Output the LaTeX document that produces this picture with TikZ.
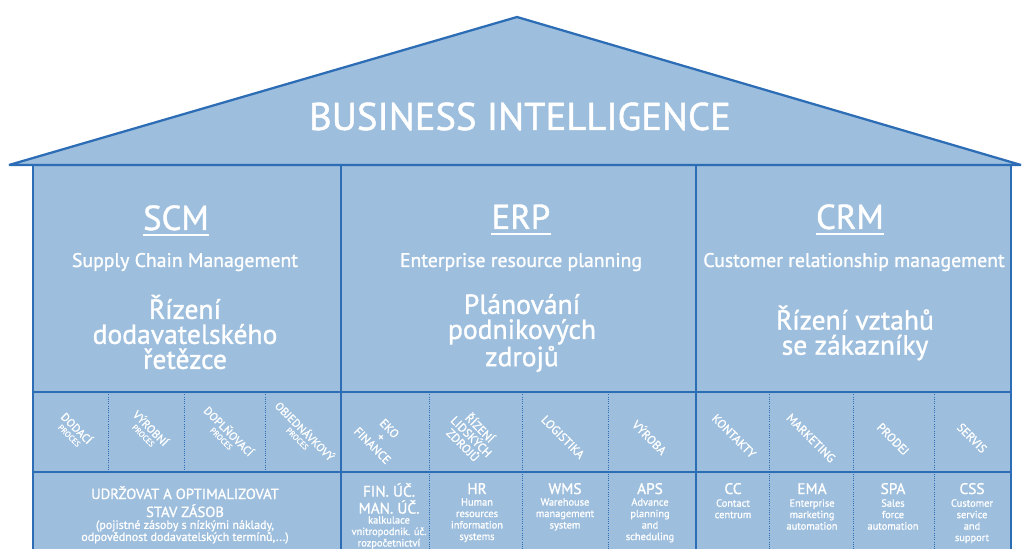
\documentclass[tikz,border=0pt]{standalone}
\usepackage{fontspec}
\setmainfont{PT Sans}[BoldFont=PT Sans,BoldFeatures={FakeBold=1.2}]
\usetikzlibrary{calc}
\definecolor{hfill}{HTML}{9DBEDD}
\definecolor{hline}{HTML}{2C6DB5}
\newcommand\myfs[2]{\fontsize{#1}{#2}\selectfont\bfseries}
\begin{document}
\begin{tikzpicture}[x=0.75pt,y=-0.75pt,
  wall/.style={draw=hline,line width=1.7pt},
  sepline/.style={draw=hline,line width=0.7pt,densely dotted},
  w/.style={text=white,inner sep=0pt},
  bi/.style={w,font=\myfs{29}{32}},
  abbr/.style={w,font=\myfs{26}{28}},
  uline/.style={draw=white,line width=1.2pt},
  sub/.style={w,font=\myfs{14.8}{16}},
  czech/.style={w,align=center,font=\myfs{20.7}{18.75}},
  rotlab/.style={w,align=center,rotate=-45,font=\myfs{9}{9}},
  proc/.style={w,align=center,rotate=-45,font=\myfs{6}{6.8}},
  btitle/.style={w,align=center,font=\myfs{11.5}{12.75}},
  bdesc/.style={w,align=center,font=\myfs{7.8}{8.6}},
  stitle/.style={w,align=center,font=\myfs{11}{13.5}},
  sdesc/.style={w,align=center,font=\myfs{9}{9}}]
\useasboundingbox (0,0) rectangle (1022,549);
% body
\fill[hfill] (33,165) rectangle (1011,549);
\filldraw[fill=hfill,draw=hline,line width=1.7pt,line join=bevel] (9,165) -- (517,17) -- (1021,165) -- cycle;
\draw[wall] (33,165) -- (33,549);
\draw[wall] (341,165) -- (341,549);
\draw[wall] (696,165) -- (696,549);
\draw[wall] (1011,165) -- (1011,549);
\draw[wall] (33,392) -- (1011,392);
\draw[wall] (33,472) -- (1011,472);
\foreach \x in {108,184,265} \draw[sepline] (\x,392) -- (\x,472);
\foreach \x in {429,522,608,769,853,934} \draw[sepline] (\x,392) -- (\x,549);
% roof
\node[bi,anchor=base] (bi) at (520,130) {BUSINESS INTELLIGENCE};
% headers
\node[abbr,anchor=base] (scm) at (176,230) {SCM};
\node[abbr,anchor=base] (erp) at (521,229) {ERP};
\node[abbr,anchor=base] (crm) at (850,229) {CRM};
\draw[uline] ($(scm.base west)+(0,5)$) -- ($(scm.base east)+(0,5)$);
\draw[uline] ($(erp.base west)+(0,5)$) -- ($(erp.base east)+(0,5)$);
\draw[uline] ($(crm.base west)+(0,5)$) -- ($(crm.base east)+(0,5)$);
\node[sub,anchor=base] (scmsub) at (185,267) {Supply Chain Management};
\node[sub,anchor=base] (erpsub) at (521,267) {Enterprise resource planning};
\node[sub,anchor=base] (crmsub) at (854,267) {Customer relationship management};
\node[czech] (scmcz) at (185,332) {Řízení\\dodavatelského\\řetězce};
\node[czech] (erpcz) at (522,333) {Plánování\\podnikových\\zdrojů};
\node[czech] (crmcz) at (855,333) {Řízení vztahů\\se zákazníky};
% SCM process row
\node[proc] (p1) at (74,431) {{\myfs{8.5}{8.5}DODACÍ}\\PROCES};
\node[proc] (p2) at (148,431) {{\myfs{8.5}{8.5}VÝROBNÍ}\\PROCES};
\node[proc] (p3) at (226,434) {{\myfs{8.5}{8.5}DOPLŇOVACÍ}\\PROCES};
\node[proc] (p4) at (302,434) {{\myfs{8.5}{8.5}OBJEDNÁVKOVÝ}\\PROCES};
% ERP row
\node[rotlab] (e1) at (381,437) {EKO\\+\\FINANCE};
\node[rotlab] (e2) at (472,436) {ŘÍZENÍ\\LIDSKÝCH\\ZDROJŮ};
\node[rotlab] (e3) at (563,437) {LOGISTIKA};
\node[rotlab] (e4) at (650,437) {VÝROBA};
% CRM row
\node[rotlab] (c1) at (734,436) {KONTAKTY};
\node[rotlab] (c2) at (811,438) {MARKETING};
\node[rotlab] (c3) at (893,439) {PRODEJ};
\node[rotlab] (c4) at (972,438) {SERVIS};
% bottom row SCM
\node[stitle,anchor=north] (st) at (185,486) {UDRŽOVAT A OPTIMALIZOVAT\\STAV ZÁSOB};
\node[sdesc,anchor=north] (sd) at (185,520) {(pojistné zásoby s nízkými náklady,\\odpovědnost dodavatelských termínů,...)};
% bottom row ERP
\node[btitle,anchor=north] (fin) at (389,483) {FIN. ÚČ.\\MAN. ÚČ.};
\node[bdesc,anchor=north] (find) at (389,516) {kalkulace\\vnitropodnik. úč.\\rozpočetnictví};
\node[btitle,anchor=base] (hr) at (477,494) {HR};
\node[bdesc,anchor=north] (hrd) at (477,498) {Human\\resources\\information\\systems};
\node[btitle,anchor=base] (wms) at (565,494) {WMS};
\node[bdesc,anchor=north] (wmsd) at (565,498) {Warehouse\\management\\system};
\node[btitle,anchor=base] (aps) at (650,494) {APS};
\node[bdesc,anchor=north] (apsd) at (650,498) {Advance\\planning\\and\\scheduling};
% bottom row CRM
\node[btitle,anchor=base] (cc) at (733,494) {CC};
\node[bdesc,anchor=north] (ccd) at (733,499) {Contact\\centrum};
\node[btitle,anchor=base] (ema) at (812,494) {EMA};
\node[bdesc,anchor=north] (emad) at (812,499) {Enterprise\\marketing\\automation};
\node[btitle,anchor=base] (spa) at (893,494) {SPA};
\node[bdesc,anchor=north] (spad) at (893,499) {Sales\\force\\automation};
\node[btitle,anchor=base] (css) at (972,494) {CSS};
\node[bdesc,anchor=north] (cssd) at (972,499) {Customer\\service\\and\\support};
\end{tikzpicture}
\end{document}
